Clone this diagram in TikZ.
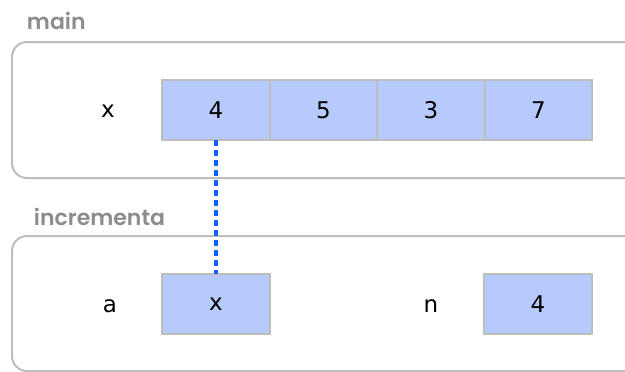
\documentclass[tikz,border=0pt]{standalone}
\usepackage{fontspec}
\setmainfont{DejaVu Sans}
\newfontfamily\titlefont{Poppins SemiBold}
\usetikzlibrary{positioning}
\definecolor{framegray}{HTML}{BDBDBD}
\definecolor{cellblue}{HTML}{B7CAFD}
\definecolor{refblue}{HTML}{0A64FF}
\definecolor{titlegray}{HTML}{8C8C8C}

\begin{document}
\begin{tikzpicture}[x=1pt,y=-1pt,line width=2pt,
  frame/.style={draw=framegray,rounded corners=15pt},
  cell/.style={draw=framegray,fill=cellblue,minimum width=107.5pt,minimum height=60pt,
    outer sep=0pt,inner sep=0pt,font=\fontsize{23}{27}\selectfont},
  varname/.style={font=\fontsize{23}{27}\selectfont},
  title/.style={anchor=base west,text=titlegray,inner sep=0pt,font=\titlefont\fontsize{22}{26}\selectfont},
  ref/.style={draw=refblue,line width=3.5pt,dash pattern=on 6pt off 4pt}]
  \useasboundingbox (0,0) rectangle (625,372);
  \clip (0,0) rectangle (625,372);
  % main frame
  \node[title] (tmain) at (26,30) {main};
  \draw[frame] (12,42) rectangle (660,178);
  \node[varname] (lx) at (108,111) {x};
  \node[cell] (m1) at (216,110) {4};
  \node[cell,right=0pt of m1] (m2) {5};
  \node[cell,right=0pt of m2] (m3) {3};
  \node[cell,right=0pt of m3] (m4) {7};
  % incrementa frame
  \node[title] (tinc) at (33,225) {incrementa};
  \draw[frame] (12,236) rectangle (660,371);
  \node[varname] (la) at (110,306) {a};
  \node[cell,minimum width=108pt] (px) at (216,304) {x};
  \node[varname] (ln) at (431,306) {n};
  \node[cell,minimum width=108pt] (pn) at (538,304) {4};
  % reference
  \draw[ref] (m1.south) -- (px.north);
\end{tikzpicture}
\end{document}
